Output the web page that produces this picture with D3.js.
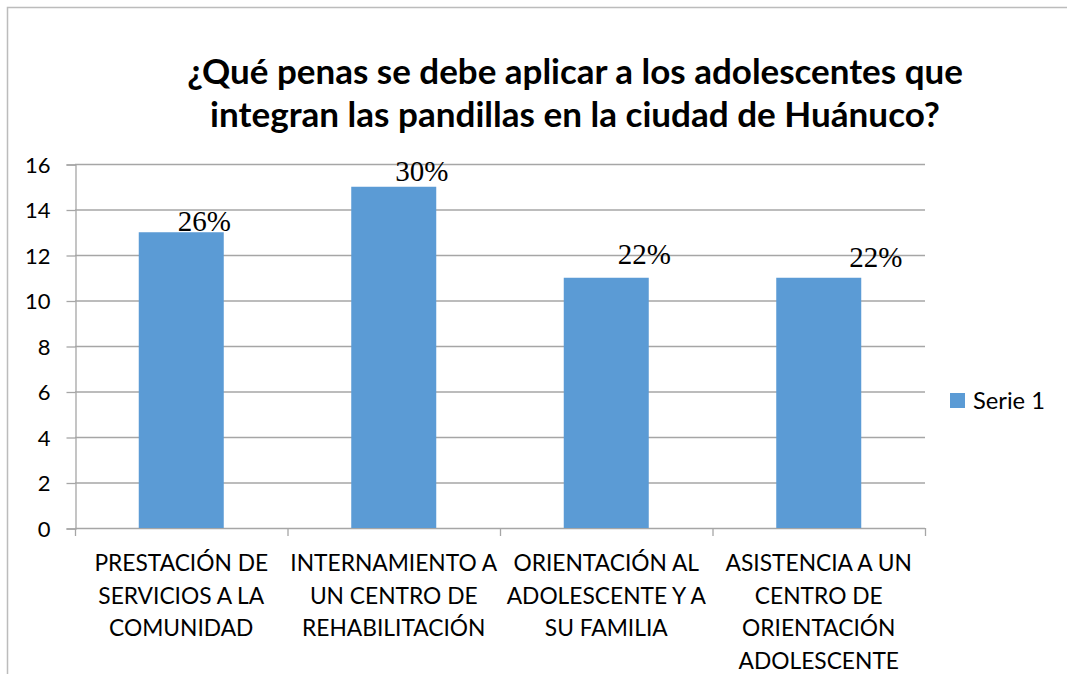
<!DOCTYPE html>
<html>
<head>
<meta charset="utf-8">
<script src="https://cdn.jsdelivr.net/npm/d3@7"></script>
<style>
  html, body { margin: 0; background: #fff; overflow: hidden; }
  svg { display: block; }
  text { font-family: Lato, 'Open Sans', sans-serif; fill: #000; }
</style>
</head>
<body>
<script>
var categories = [
  ['PRESTACIÓN DE', 'SERVICIOS A LA', 'COMUNIDAD'],
  ['INTERNAMIENTO A', 'UN CENTRO DE', 'REHABILITACIÓN'],
  ['ORIENTACIÓN AL', 'ADOLESCENTE Y A', 'SU FAMILIA'],
  ['ASISTENCIA A UN', 'CENTRO DE', 'ORIENTACIÓN', 'ADOLESCENTE']
]
var values = [13, 15, 11, 11]
var percents = ['26%', '30%', '22%', '22%']
var yTicks = [0, 2, 4, 6, 8, 10, 12, 14, 16]
var seriesName = 'Serie 1'
var titleLines = [
  '¿Qué penas se debe aplicar a los adolescentes que',
  'integran las pandillas en la ciudad de Huánuco?'
]

// data labels were dragged by hand in the original, so nudge them
var labelNudge = [[23, -1], [28, -6], [38, -14], [57, -11]]

var W = 1067, H = 674
var plot = { left: 75, right: 925, top: 164, bottom: 528 }

var svg = d3.select('body').append('svg')
  .attr('width', W).attr('height', H)

// outer chart border: only top and left edges are inside the picture
svg.append('path')
  .attr('d', 'M7.5,' + H + 'V7.5H' + W)
  .attr('fill', 'none').attr('stroke', '#bcbcbc').attr('stroke-width', 1.5)

var x = d3.scaleBand()
  .domain(d3.range(values.length))
  .range([plot.left, plot.right])
  .paddingInner(0.6).paddingOuter(0.3)

var y = d3.scaleLinear().domain([0, 16]).range([plot.bottom, plot.top])

// fit a text selection's font size so its widest line measures target px
function fitWidth (sel, base, target) {
  var w = 0
  sel.each(function () { w = Math.max(w, this.getComputedTextLength()) })
  return w > 0 ? base * target / w : base
}

// gridlines
svg.append('g').selectAll('line').data(yTicks.filter(function (d) { return d > 0 }))
  .enter().append('line')
  .attr('x1', plot.left).attr('x2', plot.right)
  .attr('y1', function (d) { return y(d) + 0.5 }).attr('y2', function (d) { return y(d) + 0.5 })
  .attr('stroke', '#a6a6a6').attr('stroke-width', 1.3)

// y axis
var yAxis = svg.append('g')
  .attr('transform', 'translate(' + (plot.left + 0.5) + ',0.5)')
  .call(d3.axisLeft(y).tickValues(yTicks).tickSize(9).tickPadding(16).tickFormat(d3.format('d')))
yAxis.attr('font-size', null).attr('font-family', null)
yAxis.select('.domain').attr('stroke', '#a6a6a6').attr('stroke-width', 1.3)
yAxis.selectAll('.tick line').attr('stroke', '#a6a6a6').attr('stroke-width', 1.3)
yAxis.selectAll('.tick text')
  .attr('font-size', 22).attr('fill', '#000').attr('dy', '0.36em')

// x axis (ticks at category boundaries)
var step = x.step()
var bounds = d3.range(values.length + 1).map(function (i) { return plot.left + i * step })
svg.append('line')
  .attr('x1', plot.left).attr('x2', plot.right)
  .attr('y1', plot.bottom + 0.5).attr('y2', plot.bottom + 0.5)
  .attr('stroke', '#a6a6a6').attr('stroke-width', 1.3)
svg.append('g').selectAll('line').data(bounds).enter().append('line')
  .attr('x1', function (d) { return d + 0.5 }).attr('x2', function (d) { return d + 0.5 })
  .attr('y1', plot.bottom).attr('y2', plot.bottom + 8)
  .attr('stroke', '#a6a6a6').attr('stroke-width', 1.3)

// bars
svg.append('g').selectAll('rect').data(values).enter().append('rect')
  .attr('x', function (d, i) { return x(i) })
  .attr('y', function (d) { return y(d) })
  .attr('width', x.bandwidth())
  .attr('height', function (d) { return y(0) - y(d) })
  .attr('fill', '#5b9bd5')

// data labels
svg.append('g').selectAll('text').data(values).enter().append('text')
  .attr('x', function (d, i) { return x(i) + x.bandwidth() / 2 + labelNudge[i][0] })
  .attr('y', function (d, i) { return y(d) + labelNudge[i][1] })
  .attr('text-anchor', 'middle')
  .attr('font-size', 29)
  .style('font-family', "'Liberation Serif', 'Times New Roman', serif")
  .text(function (d, i) { return percents[i] })

// category labels
var catG = svg.append('g').selectAll('text').data(categories).enter().append('text')
  .attr('text-anchor', 'middle')
  .attr('font-size', 20)
catG.selectAll('tspan')
  .data(function (d, i) { return d.map(function (t) { return { t: t, i: i } }) })
  .enter().append('tspan')
  .attr('x', function (d) { return x(d.i) + x.bandwidth() / 2 })
  .attr('y', function (d, j) { return 571 + j * 32.5 })
  .text(function (d) { return d.t })
var probe = svg.append('text').attr('font-size', 20).text('INTERNAMIENTO A')
catG.attr('font-size', fitWidth(probe, 20, 207))
probe.remove()

// title
var titleW = [776, 730]
var title = svg.append('g').selectAll('text').data(titleLines).enter().append('text')
  .attr('x', 575)
  .attr('y', function (d, i) { return 84 + i * 43 })
  .attr('text-anchor', 'middle')
  .attr('font-weight', 'bold')
  .attr('font-size', 28)
  .text(function (d) { return d })
title.each(function (d, i) {
  d3.select(this).attr('font-size', fitWidth(d3.select(this), 28, titleW[i]))
})

// legend
var leg = svg.append('g').attr('transform', 'translate(950,393)')
leg.append('rect').attr('width', 15).attr('height', 15).attr('fill', '#5b9bd5')
var legText = leg.append('text').attr('x', 23).attr('y', 15.5).attr('font-size', 20).text(seriesName)
legText.attr('font-size', fitWidth(legText, 20, 72))
</script>
</body>
</html>
